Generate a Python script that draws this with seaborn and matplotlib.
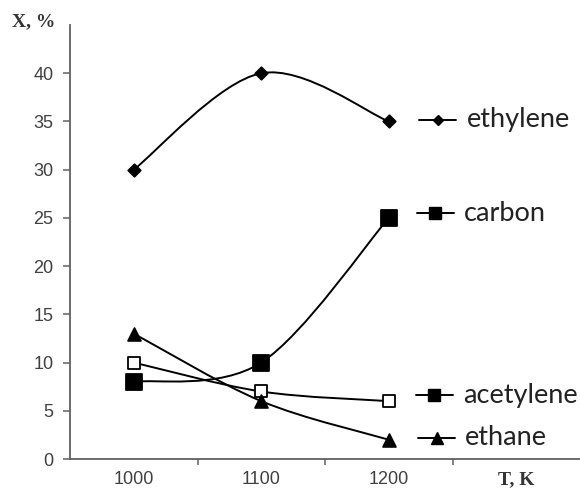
import numpy as np
import pandas as pd
import seaborn as sns
import matplotlib
matplotlib.use("Agg")
import matplotlib.pyplot as plt
from matplotlib.path import Path
from matplotlib.patches import PathPatch

# ---- data ----
temps = ["1000", "1100", "1200"]
ethylene = [30, 40, 35]
carbon = [8, 10, 25]
acetylene = [10, 7, 6]
ethane = [13, 6, 2]
series_names = ["ethylene", "carbon", "acetylene", "ethane"]
yticks = [0, 5, 10, 15, 20, 25, 30, 35, 40]
x_title = "T, K"
y_title = "X, %"

sns.set_theme(style="white")
plt.rcParams["font.family"] = ["Liberation Sans", "DejaVu Sans"]

fig = plt.figure(figsize=(5.8, 4.88), dpi=100)
ax = fig.add_axes([70 / 580, 29 / 488, 510 / 580, 434 / 488])

xpos = np.arange(len(temps))
df = pd.DataFrame({"x": np.tile(xpos, 4),
                   "y": ethylene + carbon + acetylene + ethane,
                   "series": np.repeat(series_names, len(temps))})


def smooth_path(xs, ys):
    pts = np.column_stack([xs, ys]).astype(float)
    n = len(pts)
    verts = [pts[0]]
    codes = [Path.MOVETO]
    for i in range(n - 1):
        p0 = pts[max(i - 1, 0)]
        p1 = pts[i]
        p2 = pts[i + 1]
        p3 = pts[min(i + 2, n - 1)]
        c1 = p1 + (p2 - p0) / 6.0
        c2 = p2 - (p3 - p1) / 6.0
        verts += [c1, c2, p2]
        codes += [Path.CURVE4] * 3
    return Path(verts, codes)


styles = {
    "ethylene": dict(marker="D", s=40, face="black"),
    "carbon": dict(marker="s", s=135, face="black"),
    "acetylene": dict(marker="s", s=65, face="white"),
    "ethane": dict(marker="^", s=85, face="black"),
}

for name in series_names:
    sub = df[df["series"] == name]
    ax.add_patch(PathPatch(smooth_path(sub["x"].values, sub["y"].values),
                           facecolor="none", edgecolor="black", lw=1.4,
                           zorder=2))
for name in series_names:
    sub = df[df["series"] == name]
    st = styles[name]
    sns.scatterplot(data=sub, x="x", y="y", marker=st["marker"], s=st["s"],
                    color=st["face"], edgecolor="black", linewidth=1.3,
                    ax=ax, zorder=3, legend=False)

# ---- right-side labels (legend-like) ----
label_y = [35.2, 25.5, 6.6, 2.2]
leg_markers = [("D", 5, "black"), ("s", 8, "black"), ("s", 8, "black"),
               ("^", 8, "black")]
leg_x0 = [2.24, 2.22, 2.21, 2.23]
for name, ly, (mk, ms, fc), x0 in zip(series_names, label_y, leg_markers, leg_x0):
    ax.plot([x0, x0 + 0.29], [ly, ly], color="black", lw=1.4, zorder=3,
            clip_on=False)
    ax.plot([x0 + 0.145], [ly], marker=mk, ms=ms, color=fc, mec="black",
            ls="none", zorder=4, clip_on=False)
    ax.text(x0 + 0.37, ly, name, fontsize=19.5, family=["Lato", "DejaVu Sans"],
            va="center", ha="left", color="#222222")

# ---- axes ----
ax.set_xlim(-0.5, 3.5)
ax.set_ylim(0, 45)
ax.set_xticks([0, 1, 2, 3])
ax.set_xticklabels(temps + [x_title])
ax.set_xticks([0.5, 1.5, 2.5], minor=True)
ax.set_yticks(yticks)
ax.set_yticklabels([str(v) for v in yticks])
ax.set_xlabel("")
ax.set_ylabel("")

for side in ["top", "right"]:
    ax.spines[side].set_visible(False)
for side in ["left", "bottom"]:
    ax.spines[side].set_color("#606060")
    ax.spines[side].set_linewidth(1.3)

ax.tick_params(axis="x", which="major", length=0, pad=9, labelsize=13,
               labelcolor="#404040")
ax.tick_params(axis="x", which="minor", length=4, width=1.1, color="#606060",
               direction="out", bottom=True)
ax.tick_params(axis="y", which="major", length=5, width=1.1, color="#606060",
               direction="out", left=True, pad=7, labelsize=13,
               labelcolor="#404040")

tl = ax.get_xticklabels()[3]
tl.set_fontfamily(["Liberation Serif", "DejaVu Serif"])
tl.set_fontweight("bold")
tl.set_fontsize(14)
tl.set_color("#333333")

fig.text(12 / 580, 1 - 22 / 488, y_title, fontsize=14, fontweight="bold",
         family=["Liberation Serif", "DejaVu Serif"], color="#333333",
         va="center", ha="left")

fig.savefig("out.png", dpi=100, facecolor="white")
